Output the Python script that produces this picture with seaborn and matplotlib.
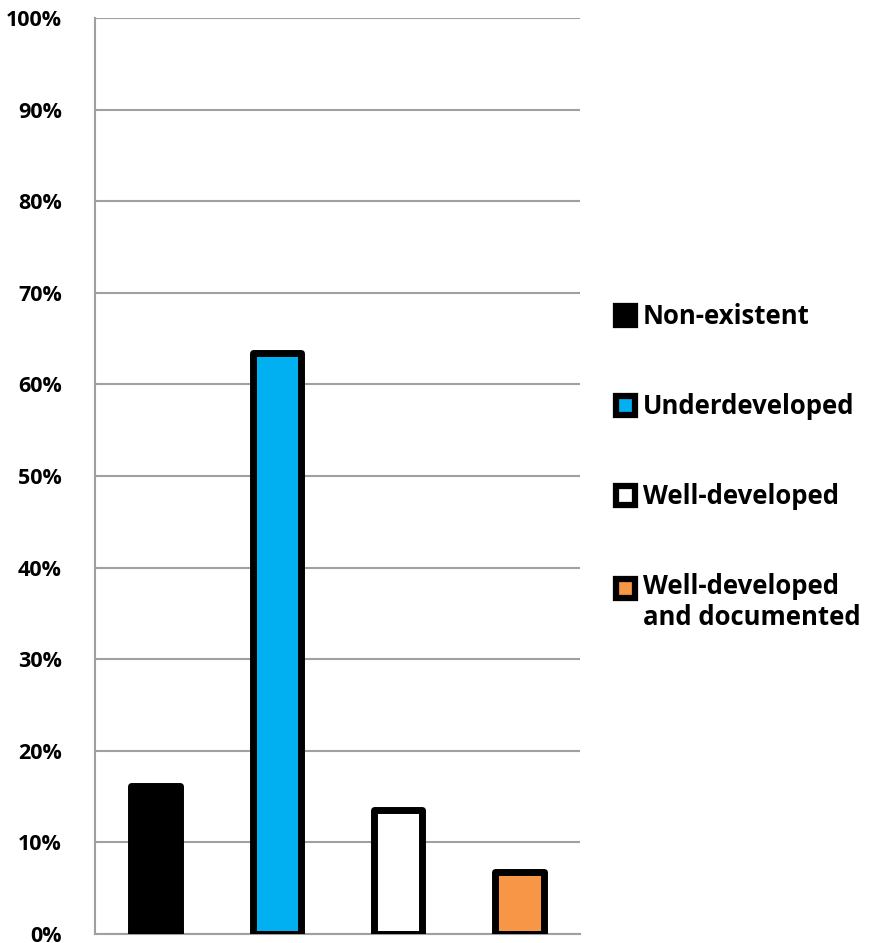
import numpy as np
import pandas as pd
import matplotlib
matplotlib.use("Agg")
import matplotlib.pyplot as plt
import seaborn as sns
from matplotlib.patches import Patch, Rectangle
from matplotlib.legend_handler import HandlerPatch

# data
categories = ["Non-existent", "Underdeveloped", "Well-developed", "Well-developed\nand documented"]
shares = [16.2, 63.4, 13.5, 6.8]
colors = ["#000000", "#00B0F0", "#FFFFFF", "#F79646"]
yticks = list(range(0, 101, 10))
ytick_labels = [f"{t}%" for t in yticks]

LEG_SIZE = 18.5


class FirstLineHandler(HandlerPatch):
    # keep the marker level with the first line of a two-line label
    def __init__(self, shift=0.0, **kw):
        super().__init__(**kw)
        self.shift = shift

    def create_artists(self, legend, orig_handle, xdescent, ydescent,
                       width, height, fontsize, trans):
        p = Rectangle((-xdescent, -ydescent + self.shift), width, height)
        self.update_prop(p, orig_handle, legend)
        p.set_transform(trans)
        return [p]


sns.set_theme(style="white")
plt.rcParams["font.family"] = ["Open Sans", "DejaVu Sans"]

df = pd.DataFrame({"category": categories, "share": shares})

fig = plt.figure(figsize=(8.73, 9.43), dpi=100)
ax = fig.add_axes([0.1088, 0.0095, 0.5555, 0.9715])

sns.barplot(data=df, x="category", y="share", hue="category", palette=colors,
            order=categories, hue_order=categories, dodge=False, width=0.40,
            saturation=1, edgecolor="black", linewidth=5, legend=False, ax=ax)
for p in ax.patches:
    p.set_joinstyle("round")
    p.set_zorder(3)

ax.set_ylim(0, 100)
ax.set_xlim(-0.5, len(categories) - 0.5)
ax.set_yticks(yticks)
ax.set_yticklabels(ytick_labels, fontsize=15.5, fontweight="bold", color="black")
ax.set_xticks([])
ax.set_xlabel("")
ax.set_ylabel("")
ax.tick_params(axis="y", length=0, pad=24)
ax.yaxis.grid(True, color="#A0A0A0", linewidth=1.5)
ax.set_axisbelow(True)
for side in ["top", "right"]:
    ax.spines[side].set_visible(False)
for side in ["left", "bottom"]:
    ax.spines[side].set_color("#A0A0A0")
    ax.spines[side].set_linewidth(1.5)

handles = [Patch(facecolor=c, edgecolor="black", linewidth=4.5, joinstyle="round") for c in colors]
handler_map = {handles[3]: FirstLineHandler(shift=0.6 * LEG_SIZE)}
leg = fig.legend(handles, categories, loc="upper left", bbox_to_anchor=(0.679, 0.703),
                 frameon=False, prop={"size": LEG_SIZE, "weight": "bold"},
                 handlelength=0.75, handleheight=0.75, handletextpad=0.3,
                 labelspacing=2.45, handler_map=handler_map)
for t in leg.get_texts():
    t.set_color("black")

fig.savefig("out.png", dpi=100)
